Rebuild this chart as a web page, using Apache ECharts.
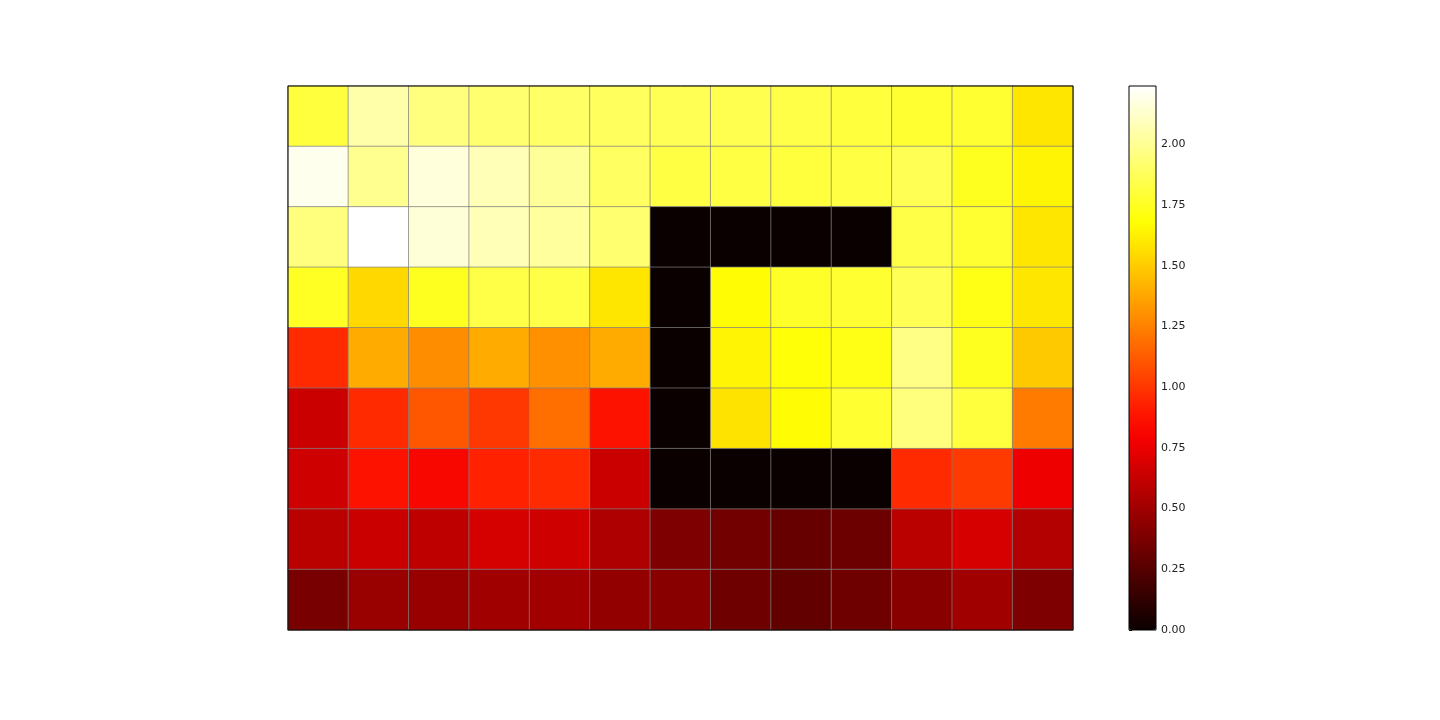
<!DOCTYPE html>
<html>
<head>
<meta charset="utf-8">
<title>Heatmap</title>
<script src="https://cdn.jsdelivr.net/npm/echarts@6/dist/echarts.min.js"></script>
<style>
  html, body { margin: 0; padding: 0; background: #fff; }
  #chart { width: 1440px; height: 720px; }
</style>
</head>
<body>
<div id="chart"></div>
<script>
// 列和行（第一行在顶部）
const columns = ['1', '2', '3', '4', '5', '6', '7', '8', '9', '10', '11', '12', '13'];
const rows = ['r1', 'r2', 'r3', 'r4', 'r5', 'r6', 'r7', 'r8', 'r9'];

// 每一行的数值，从颜色读出
const row1 = [1.81, 2.05, 1.95, 1.92, 1.90, 1.88, 1.86, 1.85, 1.83, 1.81, 1.78, 1.78, 1.59];
const row2 = [2.20, 1.99, 2.16, 2.08, 2.01, 1.89, 1.82, 1.82, 1.81, 1.82, 1.86, 1.74, 1.64];
const row3 = [1.95, 2.24, 2.15, 2.08, 2.02, 1.92, 0, 0, 0, 0, 1.83, 1.78, 1.59];
const row4 = [1.75, 1.54, 1.74, 1.83, 1.83, 1.59, 0, 1.67, 1.76, 1.78, 1.86, 1.72, 1.59];
const row5 = [0.96, 1.39, 1.29, 1.39, 1.30, 1.39, 0, 1.64, 1.69, 1.72, 1.97, 1.74, 1.49];
const row6 = [0.64, 0.96, 1.11, 1.00, 1.19, 0.87, 0, 1.58, 1.67, 1.78, 1.95, 1.81, 1.23];
const row7 = [0.66, 0.87, 0.82, 0.93, 0.96, 0.64, 0, 0, 0, 0, 0.96, 1.01, 0.76];
const row8 = [0.59, 0.64, 0.60, 0.68, 0.66, 0.547, 0.39, 0.345, 0.305, 0.325, 0.59, 0.685, 0.564];
const row9 = [0.37, 0.476, 0.473, 0.503, 0.506, 0.456, 0.419, 0.332, 0.292, 0.332, 0.423, 0.503, 0.39];
const allRows = [row1, row2, row3, row4, row5, row6, row7, row8, row9];

// 色标范围和刻度
const vMin = 0;
const vMax = 2.24;
const colorbarTicks = [0, 0.25, 0.5, 0.75, 1.0, 1.25, 1.5, 1.75, 2.0];

// matplotlib 'hot' 色图取样
const hotColors = [
  '#0b0000', '#2c0000', '#4e0000', '#6f0000', '#910000', '#b20000', '#d30000',
  '#f50000', '#ff1700', '#ff3900', '#ff5a00', '#ff7c00', '#ff9d00', '#ffbf00',
  '#ffe000', '#ffff04', '#ffff36', '#ffff68', '#ffff9b', '#ffffcd', '#ffffff'
];

const data = [];
allRows.forEach((vals, r) => {
  vals.forEach((v, c) => data.push([c, r, v]));
});

const chart = echarts.init(document.getElementById('chart'));

chart.setOption({
  animation: false,
  backgroundColor: '#fff',
  textStyle: { fontFamily: 'DejaVu Sans' },
  grid: [
    { left: 288, top: 86, width: 785, height: 544, show: true, borderColor: '#000', borderWidth: 1, z: 5 },
    { left: 1129, top: 86, width: 27, height: 544, show: true, borderColor: '#000', borderWidth: 1, z: 10 }
  ],
  xAxis: [
    { type: 'category', data: columns, gridIndex: 0, show: false },
    { type: 'value', gridIndex: 1, show: false, min: 0, max: 1 }
  ],
  yAxis: [
    { type: 'category', data: rows, gridIndex: 0, inverse: true, show: false },
    {
      type: 'value', gridIndex: 1, position: 'right', min: vMin, max: vMax,
      splitLine: { show: false },
      axisLine: { show: false },
      axisTick: { show: true, length: 3, customValues: colorbarTicks, lineStyle: { color: '#000', width: 1 } },
      axisLabel: {
        show: true, customValues: colorbarTicks, margin: 5,
        fontSize: 11, color: '#222', fontFamily: 'DejaVu Sans',
        formatter: v => v.toFixed(2)
      }
    }
  ],
  visualMap: {
    type: 'continuous',
    min: vMin,
    max: vMax,
    seriesIndex: 0,
    calculable: false,
    hoverLink: false,
    orient: 'vertical',
    left: 1129,
    top: 86,
    padding: 0,
    itemWidth: 27,
    itemHeight: 544,
    inRange: { color: hotColors }
  },
  series: [{
    type: 'heatmap',
    xAxisIndex: 0,
    yAxisIndex: 0,
    data: data,
    itemStyle: { borderColor: 'rgba(128,128,128,0.7)', borderWidth: 1 },
    emphasis: { disabled: true }
  }]
});
</script>
</body>
</html>
